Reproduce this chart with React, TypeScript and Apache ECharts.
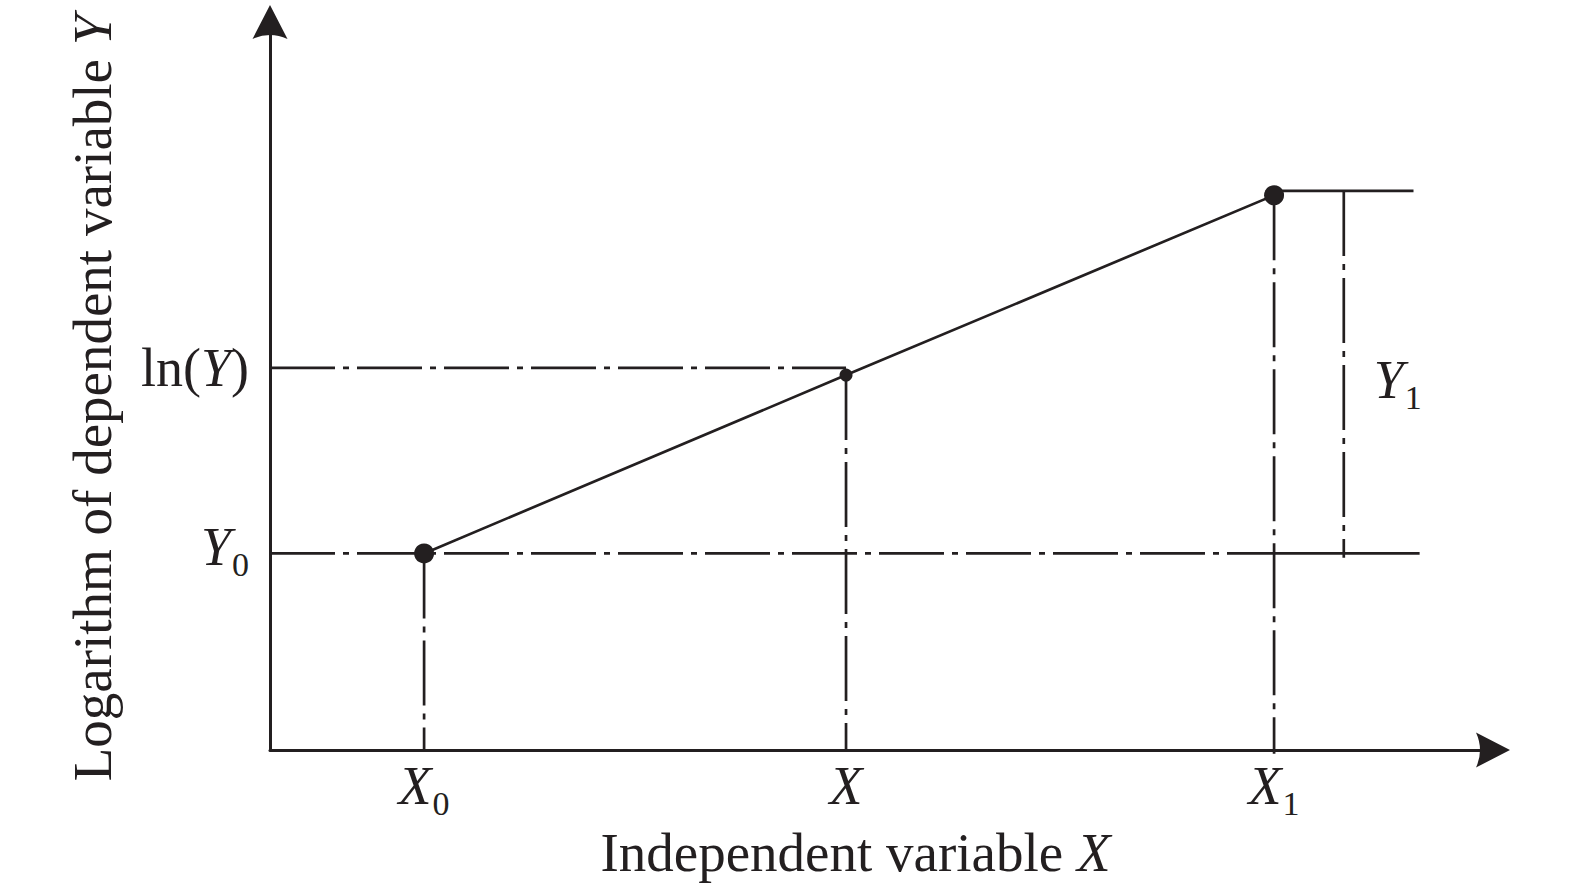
import React, { useEffect, useRef } from "react";
import * as echarts from "echarts";

const INK = "#231f20";
const FONT = '"Liberation Serif", "Times New Roman", Times, serif';
const DASH_DOT = [65, 8, 6, 8];
const LW = 2.7;

// axis ranges (arbitrary units)
const X_MIN = 0;
const X_MAX = 100;
const Y_MIN = 0;
const Y_MAX = 100;

// tick positions and labels
const xTickValues = [12.6, 47.1, 82.1];
const xTickLabels = ["{i|X}{s|0}", "{i|X}", "{i|X}{s|1}"];
const yTickValues = [27, 52.5];
const yTickLabels = ["{i|Y}{s|0}", "{r|ln(}{i|Y}{r|)}"];

// the regression line and its marked points
const curvePoints = [
  [12.6, 27],
  [47.1, 51.5],
  [82.1, 76.2],
];
const curveSymbolSizes = [20, 13, 20];

// guide lines (dash-dot)
const lnYGuide = [
  [0, 52.5],
  [47.1, 52.5],
];
const y0Guide = [
  [0, 27],
  [82.1, 27],
];
const x0Guide = [
  [12.6, 27],
  [12.6, 0],
];
const xGuide = [
  [47.1, 51.5],
  [47.1, 0],
];
const x1Guide = [
  [82.1, 76.2],
  [82.1, -0.5],
];
const y1Bracket = [
  [87.8, 76.8],
  [87.8, 26.4],
];

// solid extension lines
const y0Solid = [
  [82.1, 27],
  [94.0, 27],
];
const topSolid = [
  [82.1, 76.8],
  [93.5, 76.8],
];

// label for the Y1 bracket
const y1LabelPoint = [[87.8, 50]];
const y1LabelText = "{i|Y}{s|1}";

const xAxisTitle = "{r|Independent variable }{i|X}";
const yAxisTitle = "{r|Logarithm of dependent variable }{i|Y}";

const rich = {
  i: {
    fontFamily: FONT,
    fontStyle: "italic",
    fontSize: 54,
    color: INK,
    verticalAlign: "top",
    lineHeight: 54,
  },
  s: {
    fontFamily: FONT,
    fontSize: 34,
    color: INK,
    verticalAlign: "bottom",
    padding: [27, 0, 5, 1],
  },
  r: {
    fontFamily: FONT,
    fontSize: 54,
    color: INK,
    lineHeight: 54,
  },
};

const titleRich = {
  i: { fontFamily: FONT, fontStyle: "italic", fontSize: 55, color: INK, lineHeight: 55 },
  r: { fontFamily: FONT, fontSize: 55, color: INK, lineHeight: 55 },
};

const ARROW = "path://M17.5,0 L35,34 Q17.5,26 0,34 Z";

function lookup(values: number[], labels: string[], v: number) {
  let best = 0;
  for (let k = 1; k < values.length; k++) {
    if (Math.abs(values[k] - v) < Math.abs(values[best] - v)) best = k;
  }
  return labels[best];
}

function guide(data: number[][], dashed: boolean, clip = true) {
  return {
    type: "line",
    data,
    symbol: "none",
    clip,
    silent: true,
    z: 1,
    lineStyle: { color: INK, width: LW, type: dashed ? DASH_DOT : "solid", cap: "butt" },
  };
}

export default function App() {
  const ref = useRef<HTMLDivElement>(null);

  useEffect(() => {
    document.body.style.margin = "0";
    if (!ref.current) return;
    const chart = echarts.init(ref.current, undefined, { renderer: "svg" });
    chart.setOption({
      animation: false,
      backgroundColor: "#ffffff",
      grid: { left: 270, right: 82, top: 22, bottom: 140, containLabel: false },
      xAxis: {
        type: "value",
        min: X_MIN,
        max: X_MAX,
        name: xAxisTitle,
        nameLocation: "middle",
        nameGap: 75,
        nameTextStyle: { rich: titleRich, padding: [0, 52, 0, 0] },
        axisLine: {
          show: true,
          symbol: ["none", ARROW],
          symbolSize: [35, 34],
          lineStyle: { color: INK, width: 3 },
        },
        axisTick: { show: false },
        splitLine: { show: false },
        axisLabel: {
          show: true,
          customValues: xTickValues,
          margin: 9,
          hideOverlap: false,
          showMinLabel: true,
          showMaxLabel: true,
          formatter: (v: number) => lookup(xTickValues, xTickLabels, v),
          rich,
        },
      },
      yAxis: {
        type: "value",
        min: Y_MIN,
        max: Y_MAX,
        name: yAxisTitle,
        nameLocation: "middle",
        nameGap: 150,
        nameRotate: 90,
        nameTextStyle: { rich: titleRich, padding: [0, 24, 0, 0] },
        axisLine: {
          show: true,
          symbol: ["none", ARROW],
          symbolSize: [35, 34],
          lineStyle: { color: INK, width: 3 },
        },
        axisTick: { show: false },
        splitLine: { show: false },
        axisLabel: {
          show: true,
          customValues: yTickValues,
          margin: 21,
          hideOverlap: false,
          formatter: (v: number) => lookup(yTickValues, yTickLabels, v),
          rich,
        },
      },
      series: [
        guide(lnYGuide, true),
        guide(y0Guide, true),
        guide(x0Guide, true),
        guide(xGuide, true),
        guide(x1Guide, true, false),
        guide(y1Bracket, true),
        guide(y0Solid, false),
        guide(topSolid, false),
        {
          type: "line",
          data: curvePoints,
          symbol: "circle",
          symbolSize: (_v: number[], p: { dataIndex: number }) => curveSymbolSizes[p.dataIndex],
          showSymbol: true,
          z: 5,
          lineStyle: { color: INK, width: LW },
          itemStyle: { color: INK, borderWidth: 0 },
        },
        {
          type: "scatter",
          data: y1LabelPoint,
          symbolSize: 0,
          silent: true,
          itemStyle: { color: INK, opacity: 1 },
          label: {
            show: true,
            position: "right",
            distance: 30,
            opacity: 1,
            color: INK,
            formatter: () => y1LabelText,
            rich,
          },
        },
      ],
    });
    return () => chart.dispose();
  }, []);

  return <div ref={ref} style={{ width: 1575, height: 890 }} />;
}
